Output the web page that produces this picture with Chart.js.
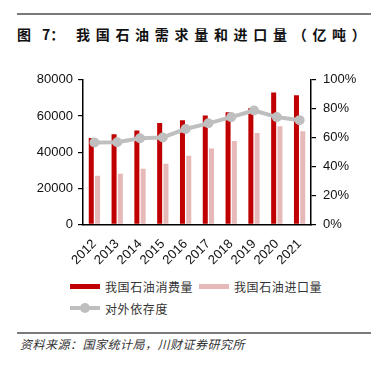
<!DOCTYPE html>
<html>
<head>
<meta charset="utf-8">
<script src="https://cdn.jsdelivr.net/npm/chart.js@4/dist/chart.umd.min.js"></script>
<style>
  html, body { margin: 0; padding: 0; background: #fff; }
  body { width: 375px; height: 372px; position: relative; overflow: hidden; font-family: "Noto Sans CJK SC", sans-serif; }
  .rule { position: absolute; left: 17px; width: 354px; height: 2px; background: #7a7a7a; }
  .tt { position: absolute; top: 24px; font-size: 14px; font-weight: bold; color: #111; white-space: nowrap; line-height: 20px; }
  #wrap { position: absolute; left: 0; top: 65px; width: 375px; height: 205px; }
  #legend { position: absolute; left: 70px; top: 276px; font-size: 12px; color: #333; letter-spacing: 0.6px; }
  .lrow { position: absolute; height: 20px; white-space: nowrap; display: flex; align-items: center; }
  .sw { display: inline-block; width: 30px; height: 5px; margin-right: 5px; }
  .lsw { display: inline-block; width: 30px; height: 10px; margin-right: 5px; position: relative; }
  .lsw .ln { position: absolute; left: 0; top: 3px; width: 30px; height: 4px; background: #BFBFBF; }
  .lsw .dt { position: absolute; left: 10px; top: 0; width: 10px; height: 10px; border-radius: 50%; background: #BFBFBF; }
  #source { position: absolute; left: 20px; top: 335px; font-size: 12px; font-style: italic; color: #333; letter-spacing: 0.5px; white-space: nowrap; line-height: 18px; }
</style>
</head>
<body>
<div class="rule" style="top:13px"></div>
<div class="tt" style="left:17px">图</div>
<div class="tt" style="left:42px">7：</div>
<div class="tt" style="left:76px; letter-spacing:5.7px">我国石油需求量和进口量（亿吨）</div>
<div id="wrap"><canvas id="c"></canvas></div>
<div id="legend"></div>
<div class="rule" style="top:332px"></div>
<div id="source">资料来源：国家统计局，川财证券研究所</div>
<script>
const categories = ["2012","2013","2014","2015","2016","2017","2018","2019","2020","2021"];
const consumption = [47800, 49900, 51900, 56100, 57600, 60300, 62100, 64400, 73000, 71500];
const imports = [26900, 28000, 30800, 33500, 38000, 42000, 46200, 50600, 54300, 51500];
const dependence = [56.7, 56.8, 59.6, 60.1, 66.0, 69.9, 74.2, 78.8, 74.2, 72.1];
const seriesNames = ["我国石油消费量", "我国石油进口量", "对外依存度"];
const leftTicks = [0, 20000, 40000, 60000, 80000];
const rightTicks = [0, 20, 40, 60, 80, 100];

const colors = ["#C00000", "#E6B9B8", "#BFBFBF"];
const tickFont = { family: 'Liberation Sans, Arial, sans-serif', size: 13 };

const chart = new Chart(document.getElementById('c'), {
  data: {
    labels: categories,
    datasets: [
      { type: 'line', label: seriesNames[2], data: dependence, yAxisID: 'y1',
        borderColor: colors[2], backgroundColor: colors[2], borderWidth: 4,
        pointRadius: 5, pointHoverRadius: 5, pointBackgroundColor: colors[2], pointBorderWidth: 0,
        tension: 0, order: 0 },
      { type: 'bar', label: seriesNames[0], data: consumption, yAxisID: 'y',
        backgroundColor: colors[0], categoryPercentage: 0.55, barPercentage: 0.8, order: 1 },
      { type: 'bar', label: seriesNames[1], data: imports, yAxisID: 'y',
        backgroundColor: colors[1], categoryPercentage: 0.55, barPercentage: 0.8, order: 1 }
    ]
  },
  options: {
    responsive: true,
    maintainAspectRatio: false,
    animation: false,
    layout: { padding: { top: 14, left: 0, right: 0, bottom: 0 } },
    plugins: { legend: { display: false }, tooltip: { enabled: false } },
    scales: {
      x: {
        grid: { display: false },
        border: { display: true, color: '#000', width: 1.5 },
        ticks: { color: '#111', font: tickFont, autoSkip: false,
                 maxRotation: 45, minRotation: 45, padding: 4 },
        afterFit: s => { s.height = 45.6; }
      },
      y: {
        position: 'left', min: 0, max: 80000,
        afterBuildTicks: s => { s.ticks = leftTicks.map(v => ({ value: v })); },
        grid: { drawOnChartArea: false, drawTicks: true, tickLength: 5, color: '#000', lineWidth: 1.2 },
        border: { display: true, color: '#000', width: 1.5 },
        ticks: { color: '#111', font: tickFont, padding: 5, callback: v => String(v) },
        afterFit: s => { s.width = 83; }
      },
      y1: {
        position: 'right', min: 0, max: 100,
        afterBuildTicks: s => { s.ticks = rightTicks.map(v => ({ value: v })); },
        grid: { drawOnChartArea: false, drawTicks: true, tickLength: 5, color: '#000', lineWidth: 1.2 },
        border: { display: true, color: '#000', width: 1.5 },
        ticks: { color: '#111', font: tickFont, padding: 7, callback: v => v + '%' },
        afterFit: s => { s.width = 64; }
      }
    }
  }
});

// HTML legend built from the chart's datasets
const lg = document.getElementById('legend');
const ds = chart.data.datasets;
function barItem(d, left, top) {
  const r = document.createElement('div'); r.className = 'lrow';
  r.style.left = left + 'px'; r.style.top = top + 'px';
  r.innerHTML = '<span class="sw" style="background:' + d.backgroundColor + '"></span><span>' + d.label + '</span>';
  lg.appendChild(r);
}
barItem(ds[1], 0, 0);
barItem(ds[2], 129, 0);
const r = document.createElement('div'); r.className = 'lrow';
r.style.left = '0px'; r.style.top = '22px';
r.innerHTML = '<span class="lsw"><span class="ln"></span><span class="dt"></span></span><span>' + ds[0].label + '</span>';
lg.appendChild(r);
</script>
</body>
</html>
